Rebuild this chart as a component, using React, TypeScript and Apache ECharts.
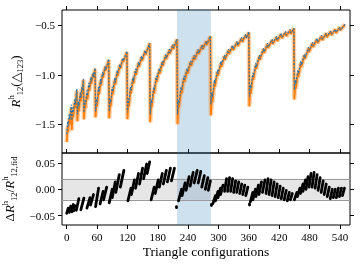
import React, { useEffect, useRef } from 'react';
import * as echarts from 'echarts';

// ---- tick values ----
const xTicks = [0, 60, 120, 180, 240, 300, 360, 420, 480, 540];
const topYTicks = [-1.5, -1.0, -0.5];
const bottomYTicks = [-0.05, 0, 0.05];
const highlightRange = [218, 285];
const toleranceBand = [-0.02, 0.02];

// ---- top panel: R^h_12 for each triangle configuration (sawtooth vertices) ----
const configX = [
  0, 2, 3, 5, 6, 9,
  10, 12, 13, 16, 17, 20,
  21, 23, 24, 27, 28, 30, 31, 33,
  34, 36, 37, 40, 41, 44, 45, 48, 49, 52, 53, 56,
  57, 59, 60, 63, 64, 67, 68, 71, 72, 76, 77, 83,
  84, 86, 87, 90, 91, 95, 96, 100, 101, 105, 106, 111, 112, 119,
  120, 122, 123, 126, 127, 131, 132, 136, 137, 142, 143, 148, 149, 155, 156, 164,
  165, 167, 168, 172, 173, 177, 178, 183, 184, 189, 190, 196, 197, 203, 204, 210, 211, 218,
  219, 221, 222, 226, 227, 232, 233, 238, 239, 245, 246, 252, 253, 260, 261, 268, 269, 276, 277, 284,
  285, 287, 288, 292, 293, 298, 299, 305, 306, 312, 313, 320, 321, 328, 329, 337, 338, 346, 347, 354, 355, 360,
  361, 363, 364, 368, 369, 374, 375, 381, 382, 389, 390, 397, 398, 406, 407, 415, 416, 424, 425, 433, 434, 442, 443, 449,
  450, 452, 453, 457, 458, 463, 464, 470, 471, 478, 479, 486, 487, 495, 496, 504, 505, 513, 514, 522, 523, 531, 532, 540, 541, 550,
];
const ratioBlue = [
  -1.60, -1.47, -1.52, -1.40, -1.45, -1.30,
  -1.46, -1.33, -1.38, -1.24, -1.30, -1.14,
  -1.40, -1.27, -1.32, -1.17, -1.23, -1.12, -1.16, -1.04,
  -1.38, -1.26, -1.30, -1.16, -1.21, -1.08, -1.13, -1.02, -1.07, -0.98, -1.02, -0.93,
  -1.37, -1.24, -1.28, -1.12, -1.17, -1.04, -1.09, -0.97, -1.01, -0.91, -0.95, -0.84,
  -1.37, -1.24, -1.28, -1.12, -1.17, -1.03, -1.08, -0.95, -0.99, -0.89, -0.93, -0.83, -0.86, -0.76,
  -1.38, -1.24, -1.28, -1.12, -1.16, -1.02, -1.07, -0.94, -0.98, -0.87, -0.91, -0.81, -0.85, -0.75, -0.79, -0.68,
  -1.40, -1.25, -1.29, -1.12, -1.16, -1.01, -1.05, -0.93, -0.97, -0.86, -0.90, -0.79, -0.83, -0.74, -0.78, -0.69, -0.73, -0.64,
  -1.40, -1.25, -1.29, -1.12, -1.16, -1.01, -1.05, -0.93, -0.97, -0.86, -0.90, -0.80, -0.84, -0.74, -0.78, -0.70, -0.74, -0.66, -0.69, -0.61,
  -1.30, -1.18, -1.22, -1.05, -1.09, -0.95, -0.99, -0.86, -0.90, -0.80, -0.84, -0.74, -0.78, -0.70, -0.74, -0.66, -0.70, -0.62, -0.66, -0.59, -0.63, -0.565,
  -1.22, -1.10, -1.14, -0.98, -1.02, -0.88, -0.92, -0.80, -0.84, -0.73, -0.77, -0.68, -0.72, -0.64, -0.68, -0.61, -0.65, -0.58, -0.62, -0.56, -0.60, -0.54, -0.58, -0.53,
  -1.15, -1.05, -1.09, -0.95, -0.99, -0.86, -0.90, -0.79, -0.83, -0.72, -0.76, -0.67, -0.71, -0.63, -0.67, -0.60, -0.64, -0.58, -0.61, -0.56, -0.59, -0.54, -0.57, -0.52, -0.55, -0.49,
];
const ratioOrange = [
  -1.68, -1.52, -1.58, -1.44, -1.50, -1.33,
  -1.56, -1.38, -1.43, -1.27, -1.34, -1.16,
  -1.47, -1.31, -1.37, -1.20, -1.27, -1.14, -1.19, -1.05,
  -1.45, -1.30, -1.34, -1.19, -1.25, -1.11, -1.16, -1.04, -1.09, -0.99, -1.03, -0.94,
  -1.43, -1.28, -1.32, -1.15, -1.20, -1.06, -1.11, -0.99, -1.03, -0.92, -0.96, -0.85,
  -1.44, -1.28, -1.32, -1.15, -1.20, -1.05, -1.10, -0.97, -1.01, -0.90, -0.94, -0.84, -0.87, -0.77,
  -1.45, -1.28, -1.32, -1.15, -1.19, -1.04, -1.09, -0.96, -1.00, -0.88, -0.92, -0.82, -0.86, -0.76, -0.80, -0.68,
  -1.48, -1.29, -1.33, -1.15, -1.19, -1.03, -1.07, -0.95, -0.99, -0.87, -0.91, -0.80, -0.84, -0.75, -0.79, -0.70, -0.74, -0.64,
  -1.50, -1.29, -1.33, -1.15, -1.19, -1.03, -1.07, -0.95, -0.99, -0.87, -0.91, -0.81, -0.85, -0.75, -0.79, -0.70, -0.74, -0.66, -0.70, -0.61,
  -1.41, -1.24, -1.28, -1.08, -1.12, -0.97, -1.01, -0.88, -0.92, -0.81, -0.85, -0.75, -0.79, -0.71, -0.75, -0.67, -0.71, -0.63, -0.67, -0.60, -0.63, -0.57,
  -1.32, -1.15, -1.19, -1.01, -1.05, -0.90, -0.94, -0.81, -0.85, -0.74, -0.78, -0.69, -0.73, -0.65, -0.69, -0.62, -0.66, -0.59, -0.63, -0.57, -0.61, -0.55, -0.59, -0.53,
  -1.25, -1.10, -1.14, -0.98, -1.02, -0.88, -0.92, -0.80, -0.84, -0.73, -0.77, -0.68, -0.72, -0.64, -0.68, -0.61, -0.65, -0.58, -0.62, -0.56, -0.60, -0.54, -0.58, -0.52, -0.55, -0.49,
];

// ---- bottom panel: residual stripes [x0, y0, x1, y1] ----
const residualStripes = [
  [0, -0.046, 3, -0.036], [5, -0.044, 8, -0.032], [10, -0.043, 13, -0.029], [14, -0.041, 16, -0.031],
  [19, -0.040, 24, -0.018],
  [28, -0.039, 34, -0.017],
  [40, -0.036, 46, -0.016], [47, -0.030, 53, -0.010],
  [57, -0.033, 63, 0.002],
  [66, -0.028, 72, -0.004], [73, -0.020, 79, 0.004],
  [84, -0.026, 90, 0.000], [90, -0.016, 96, 0.014],
  [97, -0.006, 104, 0.028], [106, 0.004, 113, 0.036],
  [121, -0.022, 127, 0.002], [128, -0.010, 134, 0.018], [136, 0.002, 142, 0.030], [144, 0.010, 150, 0.040],
  [152, 0.020, 158, 0.048], [159, 0.030, 164, 0.052],
  [167, -0.020, 173, 0.004], [175, -0.008, 181, 0.018], [183, 0.004, 189, 0.030], [191, 0.010, 197, 0.036],
  [199, 0.014, 205, 0.040], [207, 0.016, 213, 0.040],
  [217, -0.035, 217.4, -0.033],
  [221, -0.022, 227, 0.000], [228, -0.012, 234, 0.012], [236, -0.002, 242, 0.024], [244, 0.006, 250, 0.032],
  [252, 0.012, 258, 0.036], [260, 0.012, 265, 0.034], [267, 0.004, 272, 0.026], [274, 0.000, 279, 0.022],
  [280, -0.002, 284, 0.016],
  [285, -0.031, 285.4, -0.029],
  [289, -0.027, 294, -0.012], [294, -0.022, 299, -0.004], [299, -0.016, 304, 0.002], [304, -0.010, 309, 0.008],
  [312, -0.004, 316, 0.020], [318, -0.004, 322, 0.022], [324, -0.004, 328, 0.020], [330, -0.006, 334, 0.016],
  [336, -0.006, 340, 0.014], [342, -0.008, 346, 0.010], [348, -0.010, 352, 0.008], [354, -0.012, 358, 0.004],
  [361, -0.030, 361.4, -0.028],
  [363, -0.024, 368, -0.006], [368, -0.020, 373, 0.000], [374, -0.014, 379, 0.008], [380, -0.010, 385, 0.014],
  [387, -0.006, 392, 0.018], [394, -0.008, 398, 0.020], [400, -0.010, 404, 0.018], [406, -0.012, 410, 0.014],
  [412, -0.014, 416, 0.010], [418, -0.016, 422, 0.006], [424, -0.018, 428, 0.002], [430, -0.020, 434, -0.002],
  [436, -0.022, 440, -0.006], [442, -0.020, 446, -0.008],
  [450, -0.020, 455, -0.006], [456, -0.014, 461, 0.002], [462, -0.008, 467, 0.010], [467, -0.004, 472, 0.018],
  [473, 0.000, 477, 0.024], [479, 0.004, 483, 0.030], [485, 0.004, 489, 0.032], [491, 0.002, 495, 0.028],
  [497, -0.002, 501, 0.022], [503, -0.006, 507, 0.016], [509, -0.010, 513, 0.010], [515, -0.014, 519, 0.004],
  [521, -0.018, 525, 0.000], [527, -0.016, 531, 0.000], [533, -0.016, 537, 0.002], [539, -0.014, 543, 0.002],
  [545, -0.012, 549, 0.002],
];

const SERIF = '"Liberation Serif", "DejaVu Serif", serif';
const BLUE = '#1f77b4';
const ORANGE = '#ff7f0e';

const rich = {
  it: { fontFamily: SERIF, fontStyle: 'italic', fontSize: 13, lineHeight: 18, color: '#000' },
  n: { fontFamily: SERIF, fontSize: 13, lineHeight: 18, color: '#000' },
  sup: { fontFamily: SERIF, fontSize: 8.5, lineHeight: 9, verticalAlign: 'top', color: '#000' },
  sub: { fontFamily: SERIF, fontSize: 8.5, lineHeight: 9, verticalAlign: 'bottom', color: '#000' },
};

const minus = (s: string) => s.replace('-', '\u2212');

export default function App() {
  const ref = useRef<HTMLDivElement>(null);
  useEffect(() => {
    const chart = echarts.init(ref.current!, null, { renderer: 'svg' });
    const blueData = configX.map((x, i) => [x, ratioBlue[i]]);
    const orangeData = configX.map((x, i) => [x, ratioOrange[i]]);
    const tick = (vals: number[]) => ({
      show: true,
      inside: false,
      length: 4,
      customValues: vals,
      lineStyle: { color: '#000', width: 1 },
    });
    const noLine = { show: false, onZero: false };
    const xAxisBase = {
      type: 'value',
      min: -9.3,
      max: 560,
      axisLine: noLine,
      splitLine: { show: false },
    };
    const gridBase = {
      left: 62, width: 288, show: true, borderColor: '#000', borderWidth: 1,
      backgroundColor: 'transparent', containLabel: false, outerBoundsMode: 'none',
    };
    const option: any = {
      animation: false,
      grid: [
        { ...gridBase, top: 10, height: 143 },
        { ...gridBase, top: 153, height: 72 },
      ],
      xAxis: [
        {
          ...xAxisBase, gridIndex: 0, position: 'top',
          axisTick: tick(xTicks),
          axisLabel: { show: false },
        },
        {
          ...xAxisBase, gridIndex: 1, position: 'bottom',
          axisTick: tick(xTicks),
          axisLabel: {
            customValues: xTicks, margin: 6, fontFamily: SERIF, fontSize: 11, color: '#000',
          },
          name: 'Triangle configurations',
          nameLocation: 'middle',
          nameGap: 19,
          nameTextStyle: { fontFamily: SERIF, fontSize: 13.5, color: '#000' },
        },
        {
          ...xAxisBase, gridIndex: 1, position: 'top',
          axisTick: tick(xTicks),
          axisLabel: { show: false },
        },
      ],
      yAxis: [
        {
          type: 'value', gridIndex: 0, position: 'left', min: -1.79, max: -0.345,
          axisLine: noLine, splitLine: { show: false },
          axisTick: tick(topYTicks),
          axisLabel: {
            customValues: topYTicks, margin: 7, fontFamily: SERIF, fontSize: 11, color: '#000',
            formatter: (v: number) => minus(v.toFixed(1)),
          },
          name: '{it|R}{sup|h}{sub|12}{n|(\u25B3}{sub|123}{n|)}',
          nameLocation: 'middle',
          nameGap: 38,
          nameTextStyle: { rich },
        },
        {
          type: 'value', gridIndex: 0, position: 'right', min: -1.79, max: -0.345,
          axisLine: noLine, splitLine: { show: false },
          axisTick: tick(topYTicks),
          axisLabel: { show: false },
        },
        {
          type: 'value', gridIndex: 1, position: 'left', min: -0.068, max: 0.069,
          axisLine: noLine, splitLine: { show: false },
          axisTick: tick(bottomYTicks),
          axisLabel: {
            customValues: bottomYTicks, margin: 7, fontFamily: SERIF, fontSize: 11, color: '#000',
            formatter: (v: number) => minus(v.toFixed(2)),
          },
          name: '{n|\u0394}{it|R}{sup|h}{sub|12}{n|/}{it|R}{sup|h}{sub|12,fid}',
          nameLocation: 'middle',
          nameGap: 37,
          nameTextStyle: { rich },
        },
        {
          type: 'value', gridIndex: 1, position: 'right', min: -0.068, max: 0.069,
          axisLine: noLine, splitLine: { show: false },
          axisTick: tick(bottomYTicks),
          axisLabel: { show: false },
        },
      ],
      series: [
        {
          type: 'line', xAxisIndex: 0, yAxisIndex: 0, data: [], z: 0, silent: true,
          markArea: {
            silent: true,
            itemStyle: { color: 'rgba(31,119,180,0.22)' },
            data: [[{ xAxis: highlightRange[0] }, { xAxis: highlightRange[1] }]],
          },
        },
        {
          type: 'line', xAxisIndex: 1, yAxisIndex: 2, data: [], z: 0, silent: true,
          markArea: {
            silent: true,
            data: [
              [{ xAxis: highlightRange[0], itemStyle: { color: 'rgba(31,119,180,0.22)' } }, { xAxis: highlightRange[1] }],
              [{ yAxis: toleranceBand[0], itemStyle: { color: 'rgba(128,128,128,0.2)' } }, { yAxis: toleranceBand[1] }],
            ],
          },
          markLine: {
            silent: true,
            symbol: 'none',
            label: { show: false },
            lineStyle: { color: '#9a9a9a', width: 1, type: 'solid' },
            data: [{ yAxis: toleranceBand[0] }, { yAxis: toleranceBand[1] }],
          },
        },
        {
          type: 'line', xAxisIndex: 0, yAxisIndex: 0, data: orangeData, symbol: 'none',
          lineStyle: { color: ORANGE, width: 4.5, opacity: 0.35 }, z: 2,
        },
        {
          type: 'line', xAxisIndex: 0, yAxisIndex: 0, data: orangeData, symbol: 'none',
          lineStyle: { color: ORANGE, width: 1.8 }, z: 3,
        },
        {
          type: 'line', xAxisIndex: 0, yAxisIndex: 0, data: blueData, symbol: 'none',
          lineStyle: { color: BLUE, width: 1.1, type: [2, 1.5] }, z: 4,
        },
        {
          type: 'lines', coordinateSystem: 'cartesian2d', xAxisIndex: 1, yAxisIndex: 2, z: 5,
          polyline: false,
          lineStyle: { color: '#000', width: 2.8, opacity: 1, cap: 'round', curveness: 0 },
          data: residualStripes.map((s) => ({ coords: [[s[0], s[1]], [s[2], s[3]]] })),
        },
      ],
    };
    chart.setOption(option);
    return () => chart.dispose();
  }, []);
  return <div ref={ref} style={{ position: 'fixed', left: 0, top: 0, width: 361, height: 264 }} />;
}
